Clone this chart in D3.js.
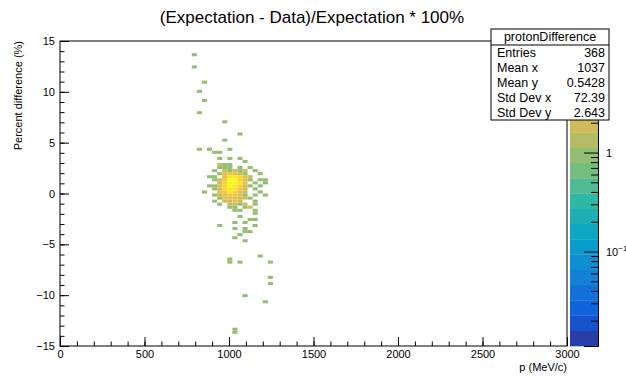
<!DOCTYPE html>
<html>
<head>
<meta charset="utf-8">
<script src="https://cdn.jsdelivr.net/npm/d3@7"></script>
<style>
  body { margin: 0; background: #fff; }
  svg { display: block; font-family: "Liberation Sans", Arial, sans-serif; }
</style>
</head>
<body>
<div id="chart"></div>
<script>
// bins of the 2D histogram: centre x (MeV/c), centre y (%), content
const binX = [
  795, 795, 855, 825, 855, 825, 975, 1065, 975,
  825, 885, 1005, 915, 945, 945, 1005, 1065, 1095,
  945, 975, 1005,
  945, 975, 1005, 1065, 1125,
  915, 975, 1005, 1035, 1065, 1095, 1155,
  945, 975, 1005, 1035, 1065, 1095, 1185,
  885, 915, 975, 1005, 1035, 1065, 1095, 1125,
  915, 945, 975, 1005, 1035, 1065, 1095, 1125, 1185, 1215,
  945, 975, 1005, 1035, 1065, 1095, 1155, 1215,
  885, 915, 945, 975, 1005, 1035, 1065, 1095, 1125, 1185,
  915, 945, 975, 1005, 1035, 1065, 1095, 1155,
  855, 945, 975, 1005, 1035, 1065, 1095, 1185,
  915, 945, 975, 1005, 1035, 1065, 1095, 1155, 1215,
  945, 975, 1005, 1035, 1065, 1095, 1125,
  915, 975, 1005, 1035, 1065, 1155,
  945, 1005, 1035, 1065, 1095, 1155,
  1005, 1035, 1095, 1125,
  1035, 1065, 1155,
  1155,
  1065, 1125, 1155, 1035, 1095, 945, 1155, 1035, 1095, 1095, 1125,
  1065, 1035, 1095, 1185, 1005, 1005, 1065, 1245, 1245, 1245,
  1095, 1215, 1035, 1035
];
const binY = [
  13.65, 12.45, 10.95, 10.05, 9.15, 7.95, 7.05, 5.85, 5.25,
  4.35, 4.35, 4.35, 4.05, 4.05, 3.45, 3.45, 3.45, 3.15,
  2.85, 2.85, 2.85,
  2.55, 2.55, 2.55, 2.55, 2.55,
  2.25, 2.25, 2.25, 2.25, 2.25, 2.25, 2.25,
  1.95, 1.95, 1.95, 1.95, 1.95, 1.95, 1.95,
  1.65, 1.65, 1.65, 1.65, 1.65, 1.65, 1.65, 1.65,
  1.35, 1.35, 1.35, 1.35, 1.35, 1.35, 1.35, 1.35, 1.35, 1.35,
  1.05, 1.05, 1.05, 1.05, 1.05, 1.05, 1.05, 1.05,
  0.75, 0.75, 0.75, 0.75, 0.75, 0.75, 0.75, 0.75, 0.75, 0.75,
  0.45, 0.45, 0.45, 0.45, 0.45, 0.45, 0.45, 0.45,
  0.15, 0.15, 0.15, 0.15, 0.15, 0.15, 0.15, 0.15,
  -0.15, -0.15, -0.15, -0.15, -0.15, -0.15, -0.15, -0.15, -0.15,
  -0.45, -0.45, -0.45, -0.45, -0.45, -0.45, -0.45,
  -0.75, -0.75, -0.75, -0.75, -0.75, -0.75,
  -1.05, -1.05, -1.05, -1.05, -1.05, -1.05,
  -1.35, -1.35, -1.35, -1.35,
  -1.65, -1.65, -1.65,
  -1.95,
  -2.25, -2.55, -2.55, -2.85, -2.85, -3.15, -3.15, -3.45, -3.45, -3.75, -3.75,
  -4.05, -4.35, -4.65, -6.15, -6.45, -6.75, -6.75, -6.75, -8.25, -8.85,
  -10.05, -10.65, -13.35, -13.65
];
const binN = [
  1, 1, 1, 1, 1, 1, 1, 1, 1,
  1, 1, 1, 1, 1, 1, 1, 1, 1,
  2, 1, 1,
  1, 1, 1, 1, 1,
  1, 2, 1, 2, 1, 2, 1,
  1, 3, 4, 3, 2, 1, 1,
  1, 1, 3, 7, 9, 5, 3, 2,
  1, 2, 4, 11, 13, 6, 3, 1, 1, 1,
  2, 6, 13, 12, 7, 3, 1, 1,
  1, 1, 3, 6, 11, 9, 5, 2, 1, 1,
  1, 2, 5, 9, 8, 4, 2, 1,
  1, 3, 4, 7, 6, 3, 2, 1,
  1, 2, 3, 4, 4, 3, 1, 1, 1,
  1, 3, 3, 3, 2, 2, 1,
  1, 2, 2, 3, 2, 1,
  1, 2, 2, 1, 2, 1,
  1, 1, 1, 2,
  1, 1, 1,
  1,
  1, 1, 1, 1, 1, 1, 1, 1, 1, 1, 1,
  1, 1, 1, 1, 1, 1, 1, 1, 1, 1,
  1, 1, 1, 1
];

const xTicks = [0, 500, 1000, 1500, 2000, 2500, 3000];
const yTicks = [-15, -10, -5, 0, 5, 10, 15];
const statLabels = ['Entries', 'Mean x', 'Mean y', 'Std Dev x', 'Std Dev y'];
const statValues = ['368', '1037', '0.5428', '72.39', '2.643'];

const W = 626, H = 377;
const frame = { left: 60, right: 567, top: 41, bottom: 346 };
const pal = { left: 570, right: 598 };
const binW = 30, binH = 0.3;
const nLevels = 20;
const zMin = 0.0111, zMax = 13.4;

// kBird palette (ROOT palette 57)
const stops = [0.0, 0.125, 0.25, 0.375, 0.5, 0.625, 0.75, 0.875, 1.0];
const red = [0.2082, 0.0592, 0.0780, 0.0232, 0.1802, 0.5301, 0.8186, 0.9956, 0.9764];
const green = [0.1664, 0.3599, 0.5041, 0.6419, 0.7178, 0.7492, 0.7328, 0.7862, 0.9832];
const blue = [0.5293, 0.8684, 0.8385, 0.7914, 0.6425, 0.4662, 0.3499, 0.1968, 0.0539];
const bird = d3.scaleLinear().domain(stops)
  .range(stops.map((s, i) => d3.rgb(red[i] * 255, green[i] * 255, blue[i] * 255)))
  .interpolate(d3.interpolateRgb);
const levelColor = k => bird(Math.floor((k + 0.99) * 255 / nLevels) / 255);

const x = d3.scaleLinear().domain([0, 3000]).range([frame.left, frame.right]);
const y = d3.scaleLinear().domain([-15, 15]).range([frame.bottom, frame.top]);
const z = d3.scaleLog().domain([zMin, zMax]).range([frame.bottom, frame.top]);
const zFrac = d3.scaleLog().domain([zMin, zMax]).range([0, 1]);

const svg = d3.select('#chart').append('svg')
  .attr('width', W).attr('height', H);

// Bins
const bins = binX.map((bx, i) => ({ x: bx, y: binY[i], n: binN[i] }));
svg.append('g')
  .selectAll('rect')
  .data(bins)
  .join('rect')
  .attr('x', d => x(d.x - binW / 2))
  .attr('y', d => y(d.y + binH / 2))
  .attr('width', d => x(d.x + binW / 2) - x(d.x - binW / 2))
  .attr('height', d => y(d.y - binH / 2) - y(d.y + binH / 2))
  .attr('fill', d => levelColor(Math.min(nLevels - 1, Math.floor(0.01 + zFrac(d.n) * nLevels))));

// Frame
svg.append('rect')
  .attr('x', frame.left).attr('y', frame.top)
  .attr('width', frame.right - frame.left).attr('height', frame.bottom - frame.top)
  .attr('fill', 'none').attr('stroke', '#000');

// X axis: minor and major ticks in their own groups
svg.append('g').attr('transform', `translate(0,${frame.bottom})`)
  .call(d3.axisBottom(x).tickValues(d3.range(0, 3001, 100)).tickSize(-4.5).tickFormat(''))
  .call(g => g.select('.domain').remove());
const gx = svg.append('g').attr('transform', `translate(0,${frame.bottom})`)
  .call(d3.axisBottom(x).tickValues(xTicks).tickSize(-9).tickPadding(4).tickFormat(d3.format('d')));
gx.select('.domain').remove();
gx.selectAll('text').attr('font-size', 11).attr('fill', '#000');

// Y axis
svg.append('g').attr('transform', `translate(${frame.left},0)`)
  .call(d3.axisLeft(y).tickValues(d3.range(-15, 15.01, 1)).tickSize(-4.5).tickFormat(''))
  .call(g => g.select('.domain').remove());
const gy = svg.append('g').attr('transform', `translate(${frame.left},0)`)
  .call(d3.axisLeft(y).tickValues(yTicks).tickSize(-9).tickPadding(5));
gy.select('.domain').remove();
gy.selectAll('text').attr('font-size', 11).attr('fill', '#000');

// Axis titles
svg.append('text')
  .attr('x', frame.right).attr('y', 371)
  .attr('text-anchor', 'end').attr('font-size', 11)
  .text('p (MeV/c)');
svg.append('text')
  .attr('transform', `translate(22,${frame.top}) rotate(-90)`)
  .attr('text-anchor', 'end').attr('font-size', 11)
  .text('Percent difference (%)');

// Title
svg.append('text')
  .attr('x', 312).attr('y', 23)
  .attr('text-anchor', 'middle').attr('font-size', 17)
  .text('(Expectation - Data)/Expectation * 100%');

// Palette
const bandH = (frame.bottom - frame.top) / nLevels;
svg.append('g')
  .selectAll('rect')
  .data(d3.range(nLevels))
  .join('rect')
  .attr('x', pal.left)
  .attr('y', k => frame.bottom - (k + 1) * bandH)
  .attr('width', pal.right - pal.left)
  .attr('height', bandH + 0.3)
  .attr('fill', k => levelColor(k));

const minorZ = [];
[0.01, 0.1, 1, 10].forEach(dec => {
  for (let m = 2; m <= 9; m++) {
    const v = dec * m;
    if (v > zMin && v < zMax) minorZ.push(v);
  }
});
svg.append('g').attr('transform', `translate(${pal.right},0)`)
  .call(d3.axisRight(z).tickValues(minorZ).tickSize(-7).tickFormat(''));
svg.append('g').attr('transform', `translate(${pal.right},0)`)
  .call(d3.axisRight(z).tickValues([0.1, 1, 10]).tickSize(-14).tickFormat(''));
svg.selectAll('.tick line').attr('stroke', '#000');
svg.selectAll('.domain').attr('stroke', '#000');

svg.append('text')
  .attr('x', pal.right + 8).attr('y', z(1) + 4)
  .attr('font-size', 11).text('1');
const lbl = svg.append('text')
  .attr('x', pal.right + 8).attr('y', z(0.1) + 4)
  .attr('font-size', 11);
lbl.append('tspan').text('10');
lbl.append('tspan').attr('dy', -5).attr('font-size', 8).text('\u22121');

// Stats box
const box = { left: 491, right: 609, top: 29, bottom: 120, titleH: 16 };
const rowH = (box.bottom - box.top - box.titleH) / statLabels.length;
svg.append('rect')
  .attr('x', box.left).attr('y', box.top)
  .attr('width', box.right - box.left).attr('height', box.bottom - box.top)
  .attr('fill', '#fff').attr('stroke', '#000');
svg.append('line')
  .attr('x1', box.left).attr('x2', box.right)
  .attr('y1', box.top + box.titleH).attr('y2', box.top + box.titleH)
  .attr('stroke', '#000');
svg.append('text')
  .attr('x', (box.left + box.right) / 2).attr('y', box.top + 12)
  .attr('text-anchor', 'middle').attr('font-size', 12.5)
  .text('protonDifference');
statLabels.forEach((s, i) => {
  const yy = box.top + box.titleH + rowH * (i + 0.5) + 4.5;
  svg.append('text').attr('x', box.left + 6).attr('y', yy)
    .attr('font-size', 12.5).text(s);
  svg.append('text').attr('x', box.right - 4).attr('y', yy)
    .attr('text-anchor', 'end').attr('font-size', 12.5).text(statValues[i]);
});
</script>
</body>
</html>
